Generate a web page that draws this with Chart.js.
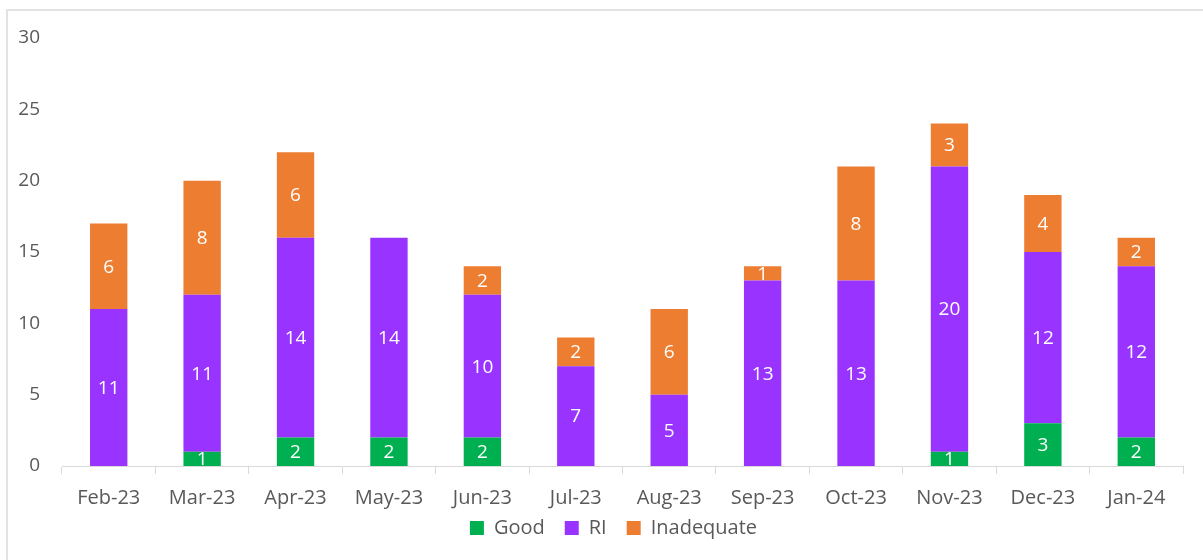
<!DOCTYPE html>
<html>
<head>
<meta charset="utf-8">
<script src="https://cdn.jsdelivr.net/npm/chart.js@4"></script>
<style>
  body { margin: 0; background: #fff; }
  #wrap { position: relative; width: 1203px; height: 560px; }
  #frame { position: absolute; left: 6px; top: 9px; right: 0; bottom: 0; border-top: 2px solid #e3e3e3; border-left: 2px solid #e3e3e3; }
  canvas { position: absolute; left: 0; top: 0; }
</style>
</head>
<body>
<div id="wrap">
  <div id="frame"></div>
  <canvas id="chart" width="1203" height="560"></canvas>
</div>
<script>
// months on the x axis
var months = ["Feb-23", "Mar-23", "Apr-23", "May-23", "Jun-23", "Jul-23", "Aug-23", "Sep-23", "Oct-23", "Nov-23", "Dec-23", "Jan-24"];

// counts per rating
var good       = [0, 1, 2, 2, 2, 0, 0, 0, 0, 1, 3, 2];
var ri         = [11, 11, 14, 14, 10, 7, 5, 13, 13, 20, 12, 12];
var inadequate = [6, 8, 6, 0, 2, 2, 6, 1, 8, 3, 4, 2];

var yTicks = [0, 5, 10, 15, 20, 25, 30];

var font = "'Open Sans', sans-serif";

// white numbers in the middle of each segment
var barLabels = {
  id: "barLabels",
  afterDatasetsDraw: function(chart) {
    var ctx = chart.ctx;
    ctx.save();
    ctx.fillStyle = "#ffffff";
    ctx.font = "19px " + font;
    ctx.textAlign = "center";
    ctx.textBaseline = "middle";
    chart.data.datasets.forEach(function(ds, i) {
      var meta = chart.getDatasetMeta(i);
      meta.data.forEach(function(bar, j) {
        var v = ds.data[j];
        if (!v) return;
        ctx.fillText(v, bar.x, (bar.y + bar.base) / 2 + 1);
      });
    });
    ctx.restore();
  }
};

// pull the legend up under the month labels, and a bit right
var legendNudge = {
  id: "legendNudge",
  afterLayout: function(chart) {
    var lg = chart.legend;
    lg.top -= 24;
    lg.left += 22; lg.right += 22;
  }
};

new Chart(document.getElementById("chart"), {
  type: "bar",
  data: {
    labels: months,
    datasets: [
      { label: "Good", data: good, backgroundColor: "#00B050" },
      { label: "RI", data: ri, backgroundColor: "#9933FF" },
      { label: "Inadequate", data: inadequate, backgroundColor: "#ED7D31" }
    ]
  },
  options: {
    responsive: false,
    animation: false,
    barPercentage: 0.4,
    categoryPercentage: 1,
    layout: { padding: { top: 38, right: 20, bottom: 10, left: 0 } },
    plugins: {
      tooltip: { enabled: false },
      legend: {
        position: "bottom",
        maxHeight: 28,
        labels: {
          font: { family: font, size: 20 },
          color: "#595959",
          boxWidth: 14,
          boxHeight: 14,
          padding: 20
        }
      }
    },
    scales: {
      x: {
        stacked: true,
        border: { color: "#d9d9d9", width: 1 },
        grid: { display: true, drawOnChartArea: false, offset: true, tickLength: 8, color: "#d9d9d9" },
        ticks: { font: { family: font, size: 20 }, color: "#595959", padding: 12, maxRotation: 0 }
      },
      y: {
        stacked: true,
        min: 0,
        max: 30,
        afterBuildTicks: function(scale) {
          scale.ticks = yTicks.map(function(v) { return { value: v }; });
        },
        afterFit: function(scale) { scale.width = 62; },
        border: { display: false },
        grid: { display: false, drawTicks: false },
        ticks: { font: { family: font, size: 19 }, color: "#595959", padding: 22 }
      }
    }
  },
  plugins: [barLabels, legendNudge]
});
</script>
</body>
</html>
